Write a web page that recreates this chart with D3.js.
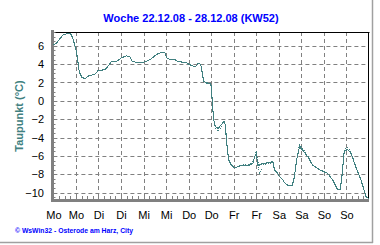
<!DOCTYPE html>
<html>
<head>
<meta charset="utf-8">
<script src="https://cdn.jsdelivr.net/npm/d3@7"></script>
<style>
  body { margin: 0; background: #fff; }
  svg { display: block; font-family: Arial, "Liberation Sans", sans-serif; }
</style>
</head>
<body>
<svg id="chart" width="380" height="245"></svg>
<script>
// daten
const titel = "Woche 22.12.08 - 28.12.08 (KW52)";
const yTitel = "Taupunkt (°C)";
const fussnote = "© WsWin32 - Osterode am Harz, City";

const tage = ["Mo", "Mo", "Di", "Di", "Mi", "Mi", "Do", "Do", "Fr", "Fr", "Sa", "Sa", "So", "So"];
const tagStunden = [0, 12, 24, 36, 48, 60, 72, 84, 96, 108, 120, 132, 144, 156];
const yWerte = [-10, -8, -6, -4, -2, 0, 2, 4, 6];

// stunden seit Mo 00:00
const stunden = [0, 1.75, 3.5, 5.25, 7, 9.2, 10.25, 11.5, 12.4, 13.2, 13.75, 15, 16.8, 18.5, 20.3, 22.1, 23.8,
  27.4, 29.2, 31, 33.6, 36.3, 38.9, 40.7, 41.9, 44.2, 46.9, 49.5, 52.2, 54.9, 57.5, 59.3, 60.2, 61.9, 64.6,
  66, 69, 70.8, 72.5, 74.3, 75.6, 77, 78.4, 79.1, 80, 81.4, 83.2, 84.1, 84.4, 84.9, 85.4, 86.2, 87.6, 89.4,
  90.8, 91.5, 92, 92.6, 93.3, 94.7, 96.4, 99.1, 101.8, 104.4, 106.2, 107.1, 108, 108.8, 109.7, 111.5, 115,
  116.8, 117.7, 119.4, 120.3, 122.1, 123, 124.7, 127.1, 128.3, 129.5, 131, 132.7, 135.4, 138, 141.6, 146,
  148.6, 151.3, 152.6, 153.6, 154.8, 156.6, 158.4, 161, 163.7, 166.4, 168];

const taupunkt = [6.1, 6.3, 6.8, 7.2, 7.3, 7.3, 6.9, 6.0, 5.2, 4.0, 3.2, 2.6, 2.4, 2.7, 2.8, 2.9, 3.3,
  3.4, 3.8, 4.3, 4.3, 4.7, 4.9, 4.8, 4.3, 4.2, 4.15, 4.3, 4.6, 5.05, 5.27, 5.3, 4.7, 4.5, 4.5,
  4.3, 4.2, 4.15, 3.95, 3.8, 3.7, 4.05, 4.0, 3.2, 2.15, 1.95, 1.93, 1.6, 0.47, -1.0, -2.1, -2.8, -3.0, -2.6,
  -2.25, -2.6, -3.9, -5.3, -6.4, -7.0, -7.3, -7.1, -7.0, -7.0, -6.8, -6.1, -5.7, -7.0, -7.0, -6.8, -6.75,
  -6.6, -7.5, -7.9, -8.25, -8.6, -8.9, -9.2, -9.25, -8.25, -6.4, -5.0, -5.35, -6.1, -7.0, -7.5, -7.9,
  -8.6, -9.7, -9.7, -8.25, -5.5, -5.3, -5.7, -7.2, -8.6, -10.4, -10.7];

// zweiter fuehler (gepunktet)
const taupunkt2 = [6.1, 6.3, 6.8, 7.2, 7.3, 7.3, 6.9, 6.0, 5.2, 4.0, 3.2, 2.6, 2.4, 2.7, 2.8, 2.9, 3.3,
  3.4, 3.8, 4.3, 4.3, 4.7, 4.9, 4.8, 4.3, 4.2, 4.15, 4.3, 4.6, 5.05, 5.27, 5.3, 4.7, 4.5, 4.5,
  4.3, 4.2, 4.15, 3.95, 3.8, 3.7, 4.05, 4.0, 3.2, 2.15, 1.95, 1.93, 1.6, 0.47, -1.0, -2.1, -2.9, -3.3, -2.9,
  -2.3, -2.6, -3.9, -5.3, -6.4, -7.0, -7.3, -7.1, -6.9, -6.9, -6.6, -6.3, -5.5, -6.5, -8.0, -7.0, -6.85,
  -6.6, -7.5, -7.9, -8.25, -8.6, -8.9, -9.2, -9.25, -8.25, -6.4, -4.8, -5.2, -6.0, -7.0, -7.5, -7.9,
  -8.6, -9.6, -9.7, -8.25, -5.3, -5.1, -5.6, -7.1, -8.6, -10.4, -10.7];

const svg = d3.select("#chart");
const teal = "#408080";
const grau = "#808080";

const x = d3.scaleLinear().domain([0, 168]).range([53.4, 369]);
const y = d3.scaleLinear().domain([-10.8, 7.5]).range([200, 32]);

// rahmen
svg.append("line").attr("x1", 372.5).attr("x2", 372.5).attr("y1", 0).attr("y2", 243).attr("stroke", "#a0a0a0").attr("stroke-width", 1.5);
svg.append("line").attr("x1", 0).attr("x2", 373).attr("y1", 242.5).attr("y2", 242.5).attr("stroke", "#a0a0a0").attr("stroke-width", 1.5);

// titel
svg.append("text")
  .attr("x", 191).attr("y", 22)
  .attr("text-anchor", "middle")
  .attr("font-size", 11).attr("font-weight", "bold")
  .attr("fill", "#0000ff")
  .text(titel);

// gitter
svg.append("g").selectAll("line")
  .data(yWerte)
  .join("line")
  .attr("x1", x(0)).attr("x2", x(168))
  .attr("y1", d => Math.round(y(d)) + 0.5).attr("y2", d => Math.round(y(d)) + 0.5)
  .attr("stroke", grau).attr("stroke-dasharray", "4,3");

svg.append("g").selectAll("line")
  .data(tagStunden.slice(1))
  .join("line")
  .attr("x1", d => Math.round(x(d)) + 0.5).attr("x2", d => Math.round(x(d)) + 0.5)
  .attr("y1", y(7.5)).attr("y2", y(-10.8))
  .attr("stroke", grau).attr("stroke-dasharray", "4,3");

// oben und rechts schwarz
svg.append("line").attr("x1", x(0)).attr("x2", x(168) + 0.5).attr("y1", 32.5).attr("y2", 32.5).attr("stroke", "#000");
svg.append("line").attr("x1", 368.5).attr("x2", 368.5).attr("y1", 32).attr("y2", 200).attr("stroke", "#000");

// kleine striche
const yKlein = d3.range(-21, 16).map(d => d / 2);
svg.append("g").selectAll("line")
  .data(yKlein)
  .join("line")
  .attr("x1", 53).attr("x2", d => d % 2 === 0 ? 57 : 55.5)
  .attr("y1", d => Math.round(y(d)) + 0.5).attr("y2", d => Math.round(y(d)) + 0.5)
  .attr("stroke", grau);

const xKlein = d3.range(1, 56).map(d => d * 3);
svg.append("g").selectAll("line")
  .data(xKlein)
  .join("line")
  .attr("x1", d => Math.round(x(d)) + 0.5).attr("x2", d => Math.round(x(d)) + 0.5)
  .attr("y1", 199).attr("y2", 196)
  .attr("stroke", grau);

// achsenlinien grau dick
svg.append("rect").attr("x", 51).attr("y", 30).attr("width", 3).attr("height", 172).attr("fill", grau);
svg.append("rect").attr("x", 51).attr("y", 199).attr("width", 318).attr("height", 3).attr("fill", grau);

// kurven
const linie = d3.line()
  .x(d => x(d[0]))
  .y(d => y(d[1]));

svg.append("path")
  .datum(stunden.map((h, i) => [h, taupunkt2[i]]))
  .attr("d", linie)
  .attr("fill", "none")
  .attr("stroke", teal)
  .attr("stroke-width", 1)
  .attr("stroke-dasharray", "1,1.5")
  .attr("shape-rendering", "crispEdges");

svg.append("path")
  .datum(stunden.map((h, i) => [h, taupunkt[i]]))
  .attr("d", linie)
  .attr("fill", "none")
  .attr("stroke", teal)
  .attr("stroke-width", 1.1)
  .attr("shape-rendering", "crispEdges");

// achsen beschriftung
const yAchse = svg.append("g")
  .attr("transform", "translate(53,0)")
  .call(d3.axisLeft(y).tickValues(yWerte).tickSize(0).tickPadding(9).tickFormat(d3.format("d")));
yAchse.select(".domain").remove();
yAchse.selectAll("text").attr("font-size", 11).attr("font-family", "Arial, 'Liberation Sans', sans-serif").attr("fill", "#000");

const xAchse = svg.append("g")
  .attr("transform", "translate(0,202)")
  .call(d3.axisBottom(x).tickValues(tagStunden).tickSize(0).tickPadding(9).tickFormat((d, i) => tage[i]));
xAchse.select(".domain").remove();
xAchse.selectAll("text").attr("font-size", 11).attr("font-family", "Arial, 'Liberation Sans', sans-serif").attr("fill", "#000");

// y titel
svg.append("text")
  .attr("transform", "translate(23,116) rotate(-90)")
  .attr("text-anchor", "middle")
  .attr("font-size", 11).attr("font-weight", "bold")
  .attr("fill", teal)
  .text(yTitel);

// fussnote
svg.append("text")
  .attr("x", 15).attr("y", 233)
  .attr("font-size", 7.5).attr("font-weight", "bold")
  .attr("fill", "#0000ff")
  .attr("textLength", 118).attr("lengthAdjust", "spacingAndGlyphs")
  .text(fussnote);
</script>
</body>
</html>
